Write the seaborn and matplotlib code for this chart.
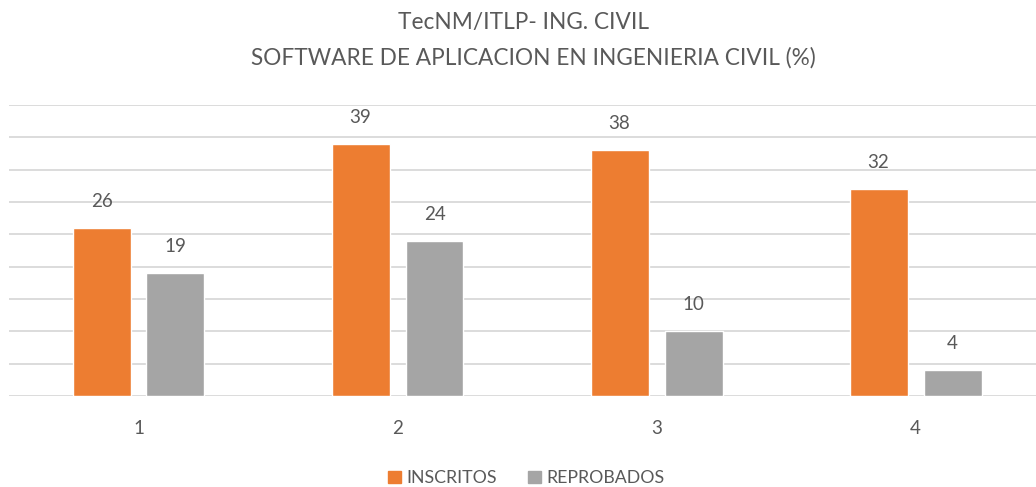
import matplotlib
matplotlib.use('Agg')
import matplotlib.pyplot as plt
import seaborn as sns
import pandas as pd

# datos
semestres = ['1', '2', '3', '4']
inscritos = [26, 39, 38, 32]
reprobados = [19, 24, 10, 4]
series = ['INSCRITOS', 'REPROBADOS']
colores = ['#ED7D31', '#A5A5A5']

TXT = '#595959'


def build_df():
    rows = [(s, series[0], v) for s, v in zip(semestres, inscritos)]
    rows += [(s, series[1], v) for s, v in zip(semestres, reprobados)]
    return pd.DataFrame(rows, columns=['semestre', 'serie', 'valor'])


def main():
    sns.set_style('white')
    plt.rcParams['font.family'] = ['Lato', 'DejaVu Sans']

    df = build_df()
    fig = plt.figure(figsize=(10.36, 4.87), dpi=100)
    ax = fig.add_axes([9 / 1036, 91 / 487, 1027 / 1036, 291 / 487])

    sns.barplot(data=df, x='semestre', y='valor', hue='serie',
                palette=colores, width=0.571, gap=0.216,
                saturation=1, errorbar=None, ax=ax, legend=False, zorder=3)

    ax.set_ylim(0, 45)
    ax.set_xlim(-0.5, 3.465)
    ax.set_yticks(range(0, 46, 5))
    ax.yaxis.grid(True, color='#D9D9D9', linewidth=1.3, zorder=0)
    ax.set_axisbelow(True)
    ax.tick_params(axis='y', left=False, labelleft=False)
    ax.tick_params(axis='x', bottom=False, labelsize=13.5, colors=TXT, pad=14)
    ax.set_xlabel('')
    ax.set_ylabel('')
    for s in ax.spines.values():
        s.set_visible(False)

    for cont in ax.containers:
        ax.bar_label(cont, padding=13, fontsize=13.5, color=TXT)

    fig.text(0.505, 1 - 23 / 487, 'TecNM/ITLP- ING. CIVIL', ha='center',
             va='center', fontsize=16.3, color=TXT)
    fig.text(0.515, 1 - 58 / 487, 'SOFTWARE DE APLICACION EN INGENIERIA CIVIL (%)',
             ha='center', va='center', fontsize=16.3, color=TXT)

    handles = [plt.Rectangle((0, 0), 1, 1, color=c) for c in colores]
    fig.legend(handles, series, loc='center', bbox_to_anchor=(0.508, 1 - 478 / 487),
               ncol=2, frameon=False, fontsize=12.8, labelcolor=TXT,
               handlelength=0.7, handleheight=0.7, handletextpad=0.3,
               columnspacing=1.8)

    fig.savefig('out.png', dpi=100)


if __name__ == '__main__':
    main()
